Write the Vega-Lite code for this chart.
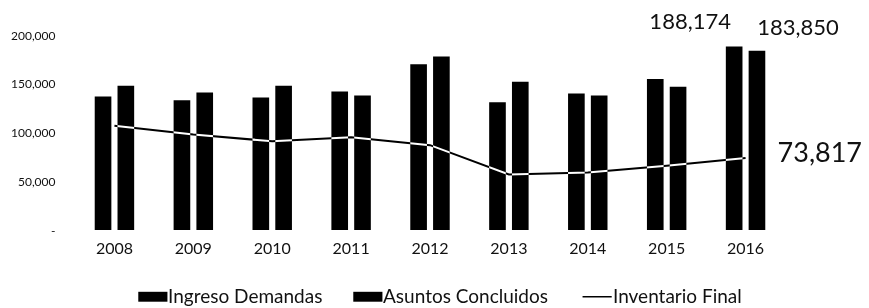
{
  "$schema": "https://vega.github.io/schema/vega-lite/v6.json",
  "autosize": {"type": "none"},
  "padding": {"left": 75, "top": 35, "right": 84, "bottom": 78},
  "width": 710,
  "height": 195,
  "background": "white",
  "config": {"view": {"stroke": null}, "font": "Lato"},
  "datasets": {
    "barras": [
      {"anio": "2008", "serie": "Ingreso Demandas", "valor": 137000},
      {"anio": "2009", "serie": "Ingreso Demandas", "valor": 133000},
      {"anio": "2010", "serie": "Ingreso Demandas", "valor": 136000},
      {"anio": "2011", "serie": "Ingreso Demandas", "valor": 142000},
      {"anio": "2012", "serie": "Ingreso Demandas", "valor": 170000},
      {"anio": "2013", "serie": "Ingreso Demandas", "valor": 131000},
      {"anio": "2014", "serie": "Ingreso Demandas", "valor": 140000},
      {"anio": "2015", "serie": "Ingreso Demandas", "valor": 155000},
      {"anio": "2016", "serie": "Ingreso Demandas", "valor": 188174},
      {"anio": "2008", "serie": "Asuntos Concluidos", "valor": 148000},
      {"anio": "2009", "serie": "Asuntos Concluidos", "valor": 141000},
      {"anio": "2010", "serie": "Asuntos Concluidos", "valor": 148000},
      {"anio": "2011", "serie": "Asuntos Concluidos", "valor": 138000},
      {"anio": "2012", "serie": "Asuntos Concluidos", "valor": 178000},
      {"anio": "2013", "serie": "Asuntos Concluidos", "valor": 152000},
      {"anio": "2014", "serie": "Asuntos Concluidos", "valor": 138000},
      {"anio": "2015", "serie": "Asuntos Concluidos", "valor": 147000},
      {"anio": "2016", "serie": "Asuntos Concluidos", "valor": 183850}
    ],
    "inventario": [
      {"anio": "2008", "valor": 107000},
      {"anio": "2009", "valor": 98000},
      {"anio": "2010", "valor": 91000},
      {"anio": "2011", "valor": 95000},
      {"anio": "2012", "valor": 87000},
      {"anio": "2013", "valor": 57000},
      {"anio": "2014", "valor": 59000},
      {"anio": "2015", "valor": 66000},
      {"anio": "2016", "valor": 73817}
    ]
  },
  "encoding": {
    "x": {
      "field": "anio", "type": "ordinal",
      "scale": {"paddingInner": 0.5, "paddingOuter": 0.25},
      "axis": {"title": null, "domain": false, "ticks": false, "labelAngle": 0, "labelFontSize": 16, "labelPadding": 10, "labelColor": "#111", "labelFont": "Lato"}
    },
    "y": {
      "field": "valor", "type": "quantitative",
      "scale": {"domain": [0, 200000], "nice": false},
      "axis": {"title": null, "domain": false, "ticks": false, "grid": false, "values": [0, 50000, 100000, 150000, 200000], "labelExpr": "datum.value === 0 ? '-' : format(datum.value, ',')", "labelFontSize": 12, "labelPadding": 20, "labelColor": "#111", "labelFont": "Lato"}
    }
  },
  "layer": [
    {
      "data": {"name": "barras"},
      "mark": {"type": "bar"},
      "encoding": {
        "xOffset": {"field": "serie", "type": "nominal", "sort": ["Ingreso Demandas", "Asuntos Concluidos"], "scale": {"paddingInner": 0.27, "paddingOuter": 0}},
        "color": {
          "field": "serie", "type": "nominal",
          "scale": {"domain": ["Ingreso Demandas", "Asuntos Concluidos", "Inventario Final"], "range": ["#000000", "#000000", "#000000"]},
          "legend": {
            "title": null, "orient": "none", "legendX": 72, "legendY": 252, "direction": "horizontal", "columns": 3,
            "columnPadding": 30, "labelFontSize": 19, "labelLimit": 400, "labelFont": "Lato", "labelColor": "#111", "labelOffset": 2, "symbolSize": 850,
            "encode": {
              "symbols": {
                "update": {
                  "shape": {"signal": "datum.value === 'Inventario Final' ? 'M-1.3,0H0.7' : 'M-1.25,-0.34H0.75V0.34H-1.25Z'"},
                  "stroke": {"value": "#000000"},
                  "strokeWidth": {"signal": "datum.value === 'Inventario Final' ? 1.5 : 0"},
                  "fill": {"signal": "datum.value === 'Inventario Final' ? 'transparent' : '#000000'"}
                }
              }
            }
          }
        }
      }
    },
    {
      "data": {"name": "inventario"},
      "mark": {"type": "line", "color": "white", "strokeWidth": 2, "blend": "difference"},
      "encoding": {}
    },
    {
      "data": {"name": "barras"},
      "transform": [{"filter": "datum.anio === '2016' && datum.serie === 'Ingreso Demandas'"}],
      "mark": {"type": "text", "fontSize": 22, "dx": -44, "dy": -25, "baseline": "middle", "align": "center", "color": "#111"},
      "encoding": {
        "xOffset": {"field": "serie", "type": "nominal", "sort": ["Ingreso Demandas", "Asuntos Concluidos"]},
        "text": {"field": "valor", "type": "quantitative", "format": ","}
      }
    },
    {
      "data": {"name": "barras"},
      "transform": [{"filter": "datum.anio === '2016' && datum.serie === 'Asuntos Concluidos'"}],
      "mark": {"type": "text", "fontSize": 22, "dx": 41, "dy": -23, "baseline": "middle", "align": "center", "color": "#111"},
      "encoding": {
        "xOffset": {"field": "serie", "type": "nominal", "sort": ["Ingreso Demandas", "Asuntos Concluidos"]},
        "text": {"field": "valor", "type": "quantitative", "format": ","}
      }
    },
    {
      "data": {"name": "inventario"},
      "transform": [{"filter": "datum.anio === '2016'"}],
      "mark": {"type": "text", "fontSize": 27, "dx": 32, "dy": -4, "baseline": "middle", "align": "left", "color": "#111"},
      "encoding": {
        "text": {"field": "valor", "type": "quantitative", "format": ","}
      }
    }
  ]
}
